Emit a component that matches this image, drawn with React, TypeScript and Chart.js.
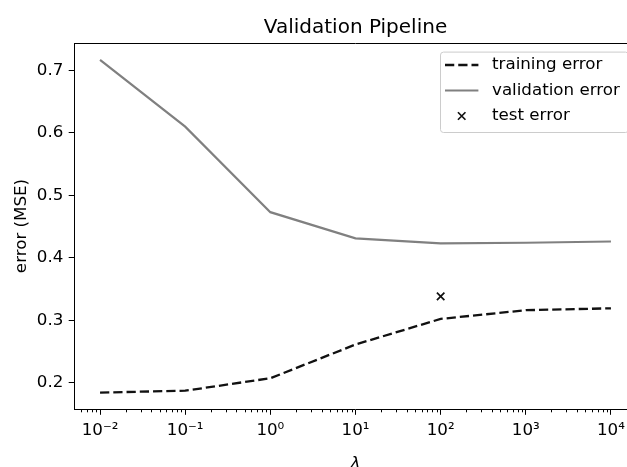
import React, { useEffect, useRef } from "react";
import { Chart, registerables } from "chart.js";

Chart.register(...registerables);

// ---- data ----
const lambdas = [0.01, 0.1, 1, 10, 100, 1000, 10000];
const trainingError = [0.184, 0.187, 0.207, 0.261, 0.302, 0.316, 0.319];
const validationError = [0.717, 0.61, 0.473, 0.431, 0.423, 0.424, 0.426];
const testLambda = [100];
const testError = [0.338];
const yTicks = [0.2, 0.3, 0.4, 0.5, 0.6, 0.7];
const xTickExponents = [-2, -1, 0, 1, 2, 3, 4];
const seriesLabels = ["training error", "validation error", "test error"];
const titleText = "Validation Pipeline";
const yAxisLabel = "error (MSE)";
const xAxisLabel = "λ";

const SUP: Record<string, string> = {
  "-": "⁻", "0": "⁰", "1": "¹", "2": "²", "3": "³", "4": "⁴",
  "5": "⁵", "6": "⁶", "7": "⁷", "8": "⁸", "9": "⁹",
};
const sup = (n: number) => String(n).split("").map((c) => SUP[c] ?? c).join("");

const FAMILY = "'DejaVu Sans', 'Liberation Sans', sans-serif";
const FS = 16.7;

export default function App() {
  const ref = useRef<HTMLCanvasElement>(null);

  useEffect(() => {
    const canvas = ref.current!;
    const mplPlugin = {
      id: "mplDecor",
      afterDraw(chart: any) {
        const ctx = chart.ctx as CanvasRenderingContext2D;
        const a = chart.chartArea;
        const xs = chart.scales.x;
        ctx.save();
        // top and right spines
        ctx.strokeStyle = "#000";
        ctx.lineWidth = 1;
        ctx.beginPath();
        ctx.moveTo(a.left, Math.round(a.top) + 0.5);
        ctx.lineTo(a.right, Math.round(a.top) + 0.5);
        ctx.lineTo(a.right, a.bottom);
        ctx.stroke();
        // minor x ticks
        ctx.lineWidth = 1;
        for (let k = -3; k <= 4; k++) {
          for (let m = 2; m <= 9; m++) {
            const v = m * Math.pow(10, k);
            if (v < xs.min || v > xs.max) continue;
            const px = Math.round(xs.getPixelForValue(v)) + 0.5;
            ctx.beginPath();
            ctx.moveTo(px, a.bottom);
            ctx.lineTo(px, a.bottom + 3.3);
            ctx.stroke();
          }
        }
        // title
        ctx.fillStyle = "#000";
        ctx.font = `20px ${FAMILY}`;
        ctx.textAlign = "center";
        ctx.textBaseline = "alphabetic";
        ctx.fillText(titleText, (a.left + a.right) / 2, 33.3);
        // x axis label
        ctx.font = `italic ${FS}px ${FAMILY}`;
        ctx.fillText(xAxisLabel, (a.left + a.right) / 2, 468);
        // y axis label
        ctx.save();
        ctx.translate(22, (a.top + a.bottom) / 2);
        ctx.rotate(-Math.PI / 2);
        ctx.font = `${FS}px ${FAMILY}`;
        ctx.textBaseline = "middle";
        ctx.fillText(yAxisLabel, 0, 0);
        ctx.restore();
        // legend
        const bx = 440, by = 51.6, bw = 188, bh = 80.4;
        ctx.beginPath();
        (ctx as any).roundRect(bx + 0.5, by + 0.5, bw, bh, 3);
        ctx.fillStyle = "rgba(255,255,255,0.8)";
        ctx.fill();
        ctx.strokeStyle = "#cccccc";
        ctx.lineWidth = 1;
        ctx.stroke();
        const rows = [65, 90.5, 116];
        const hx0 = 445, hx1 = 478.4, tx = 492;
        chart.data.datasets.forEach((ds: any, i: number) => {
          const y = rows[i];
          ctx.save();
          if (ds.showLine === false) {
            const cx = (hx0 + hx1) / 2, r = 5.3 * Math.SQRT1_2;
            ctx.strokeStyle = ds.pointBorderColor;
            ctx.lineWidth = ds.pointBorderWidth;
            ctx.beginPath();
            ctx.moveTo(cx - r, y - r); ctx.lineTo(cx + r, y + r);
            ctx.moveTo(cx - r, y + r); ctx.lineTo(cx + r, y - r);
            ctx.stroke();
          } else {
            ctx.strokeStyle = ds.borderColor;
            ctx.lineWidth = ds.borderWidth;
            ctx.setLineDash(ds.borderDash || []);
            ctx.beginPath();
            ctx.moveTo(hx0, y); ctx.lineTo(hx1, y);
            ctx.stroke();
          }
          ctx.restore();
          ctx.fillStyle = "#000";
          ctx.font = `${FS}px ${FAMILY}`;
          ctx.textAlign = "left";
          ctx.textBaseline = "middle";
          ctx.fillText(ds.label, tx, y);
        });
        ctx.restore();
      },
    };

    const chart = new Chart(canvas, {
      type: "line",
      data: {
        datasets: [
          {
            label: seriesLabels[0],
            data: lambdas.map((x, i) => ({ x, y: trainingError[i] })),
            borderColor: "#111",
            borderWidth: 2.3,
            borderDash: [9.25, 4],
            pointRadius: 0,
            fill: false,
          },
          {
            label: seriesLabels[1],
            data: lambdas.map((x, i) => ({ x, y: validationError[i] })),
            borderColor: "#808080",
            borderWidth: 2.2,
            pointRadius: 0,
            fill: false,
          },
          {
            label: seriesLabels[2],
            data: testLambda.map((x, i) => ({ x, y: testError[i] })),
            showLine: false,
            pointStyle: "crossRot",
            pointRadius: 5.3,
            pointBorderColor: "#111",
            pointBorderWidth: 1.7,
            borderColor: "#111",
          },
        ] as any,
      },
      options: {
        animation: false,
        responsive: false,
        devicePixelRatio: 1,
        layout: { padding: { top: 43, right: 13.5, left: 0, bottom: 0 } },
        plugins: { legend: { display: false }, title: { display: false }, tooltip: { enabled: false } },
        scales: {
          x: {
            type: "logarithmic",
            min: Math.pow(10, -2.3),
            max: Math.pow(10, 4.3),
            afterBuildTicks: (s: any) => {
              s.ticks = xTickExponents.map((e) => ({ value: Math.pow(10, e) }));
            },
            afterFit: (s: any) => { s.height = 58; },
            ticks: {
              autoSkip: false,
              maxRotation: 0,
              minRotation: 0,
              padding: 6,
              color: "#000",
              font: { family: FAMILY, size: FS },
              callback: (v: any) => "10" + sup(Math.round(Math.log10(Number(v)))),
            },
            grid: { drawOnChartArea: false, drawTicks: true, tickLength: 5.8, tickColor: "#000", tickWidth: 1 },
            border: { display: true, color: "#000", width: 1 },
          },
          y: {
            type: "linear",
            min: 0.1577,
            max: 0.744,
            afterBuildTicks: (s: any) => {
              s.ticks = yTicks.map((v) => ({ value: v }));
            },
            afterFit: (s: any) => { s.width = 74.5; },
            ticks: {
              padding: 5.4,
              color: "#000",
              font: { family: FAMILY, size: FS },
              callback: (v: any) => Number(v).toFixed(1),
            },
            grid: { drawOnChartArea: false, drawTicks: true, tickLength: 5.8, tickColor: "#000", tickWidth: 1 },
            border: { display: true, color: "#000", width: 1 },
          },
        },
      } as any,
      plugins: [mplPlugin],
    });
    return () => chart.destroy();
  }, []);

  return (
    <div
      style={{
        position: "fixed",
        left: 0,
        top: 0,
        width: 627,
        height: 467,
        overflow: "hidden",
        background: "#fff",
      }}
    >
      <canvas ref={ref} width={650} height={467} style={{ display: "block", width: 650, height: 467 }} />
    </div>
  );
}
